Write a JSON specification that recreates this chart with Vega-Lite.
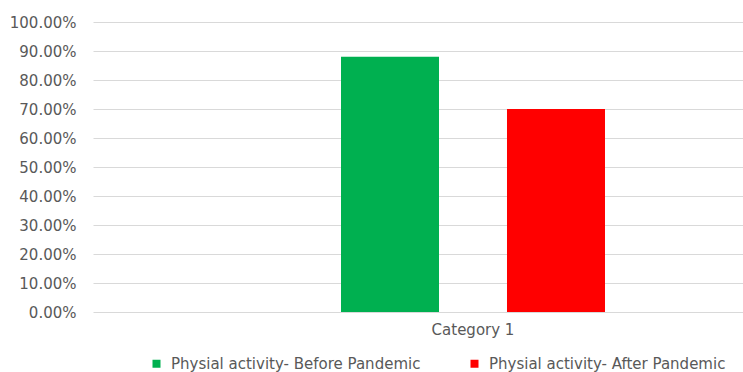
{
  "$schema": "https://vega.github.io/schema/vega-lite/v6.json",
  "width": 760,
  "height": 290,
  "autosize": {"type": "none"},
  "padding": {"left": 93, "top": 22, "right": 0, "bottom": 60},
  "background": "#ffffff",
  "config": {
    "view": {"stroke": null},
    "font": "DejaVu Sans"
  },
  "data": {
    "values": [
      {"category": "Category 1", "series": "Physial activity- Before Pandemic", "share": 0.88},
      {"category": "Category 1", "series": "Physial activity- After Pandemic", "share": 0.70}
    ]
  },
  "mark": {"type": "bar"},
  "encoding": {
    "x": {
      "field": "category",
      "type": "nominal",
      "scale": {"paddingInner": 0, "paddingOuter": 0.9394},
      "axis": {
        "title": null,
        "labelAngle": 0,
        "ticks": false,
        "domain": false,
        "labelPadding": 10,
        "labelFontSize": 15,
        "labelColor": "#595959"
      }
    },
    "xOffset": {
      "field": "series",
      "sort": ["Physial activity- Before Pandemic", "Physial activity- After Pandemic"],
      "scale": {"paddingInner": 0.4096, "paddingOuter": 0}
    },
    "y": {
      "field": "share",
      "type": "quantitative",
      "scale": {"domain": [0, 1], "nice": false},
      "axis": {
        "title": null,
        "format": ".2%",
        "values": [0, 0.1, 0.2, 0.3, 0.4, 0.5, 0.6, 0.7, 0.8, 0.9, 1],
        "domain": false,
        "ticks": false,
        "labelPadding": 17,
        "labelFontSize": 15,
        "labelColor": "#595959",
        "gridColor": "#d9d9d9",
        "gridWidth": 1
      }
    },
    "color": {
      "field": "series",
      "type": "nominal",
      "scale": {
        "domain": ["Physial activity- Before Pandemic", "Physial activity- After Pandemic"],
        "range": ["#00b050", "#ff0000"]
      },
      "legend": {
        "title": null,
        "orient": "none",
        "direction": "horizontal",
        "legendX": 56,
        "legendY": 334,
        "padding": 0,
        "symbolType": "square",
        "symbolSize": 64,
        "symbolStrokeWidth": 0,
        "symbolOpacity": 1,
        "labelFontSize": 15,
        "labelColor": "#595959",
        "labelOffset": 7,
        "labelLimit": 0,
        "columnPadding": 46
      }
    }
  }
}
